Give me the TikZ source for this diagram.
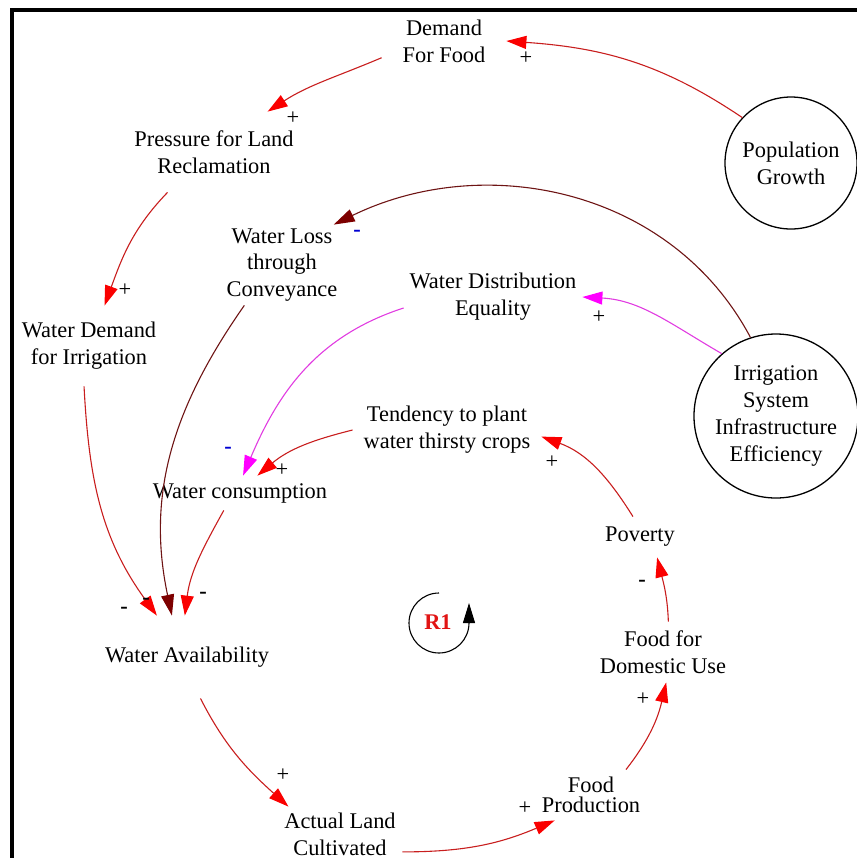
\documentclass[tikz,border=0pt]{standalone}
\usepackage{fontspec}
\setmainfont{Liberation Serif}
\usetikzlibrary{arrows.meta}

\definecolor{linkred}{RGB}{200,30,30}
\definecolor{tipred}{RGB}{250,0,0}
\definecolor{lossline}{RGB}{110,20,20}
\definecolor{losstip}{RGB}{125,0,0}
\definecolor{distline}{RGB}{225,60,225}
\definecolor{disttip}{RGB}{255,0,255}
\definecolor{signblue}{RGB}{0,0,210}
\definecolor{loopred}{RGB}{225,20,20}

\newcommand{\vfont}{\fontsize{11.2}{13.4}\selectfont}

\begin{document}
\begin{tikzpicture}[x=0.5pt, y=0.5pt,
  var/.style={font=\vfont, align=center, inner sep=0pt},
  box/.style 2 args={var, minimum width=#1, minimum height=#2},
  stock/.style={var, draw, circle, line width=0.65pt, minimum size=#1},
  link/.style={draw=linkred, line width=0.55pt, -{Triangle[length=10pt,width=6.5pt,color=tipred]}},
  losslink/.style={draw=lossline, line width=0.55pt, -{Triangle[length=10.5pt,width=6.5pt,color=losstip]}},
  distlink/.style={draw=distline, line width=0.55pt, -{Triangle[length=10pt,width=6.5pt,color=disttip]}},
  sign/.style={font=\vfont, inner sep=0pt},
  neg/.style={font=\vfont\bfseries, inner sep=0pt}]

\useasboundingbox (0,0) rectangle (857,-858);
\draw [line width=1.7pt] (12,-858) -- (12,-10) -- (857,-10);

% variables
\node [box={62pt}{30pt}] (dff) at (444,-41) {Demand\\For Food};
\node [box={90pt}{40pt}] (plr) at (214,-152) {Pressure for Land\\Reclamation};
\node [box={75pt}{40pt}] (wdi) at (89,-346) {Water Demand\\for Irrigation};
\node [box={62pt}{40pt}] (wlc) at (282,-265) {Water Loss\\through\\Conveyance};
\node [box={89pt}{30pt}] (wde) at (493,-297) {Water Distribution\\Equality};
\node [box={94pt}{30pt}] (tend) at (447,-430) {Tendency to plant\\water thirsty crops};
\node [box={95pt}{17pt}] (wc) at (240,-493) {Water consumption};
\node [box={90pt}{41pt}] (wa) at (187,-657) {Water Availability};
\node [box={62pt}{27pt}] (alc) at (340,-834) {Actual Land\\Cultivated};
\node [box={60pt}{25pt}] (fp) at (591,-795) {Food\\[-3.4pt]Production};
\node [box={70pt}{30pt}] (ffd) at (663,-652) {Food for\\Domestic Use};
\node [box={45pt}{20pt}] (pov) at (640,-537) {Poverty};
\node [stock=66pt] (popg) at (791,-163) {Population\\Growth};
\node [stock=82pt] (isie) at (776,-416) {Irrigation\\System\\Infrastructure\\Efficiency};

% links
\draw [link] (popg.137) to[out=146, in=-4] (dff.east);
\draw [link] (dff.195) to[out=203, in=33] (plr.37);
\draw [link] (plr.221) to[out=226, in=70] (wdi.69);
\draw [link] (wdi.263) to[out=273, in=126] (wa.126);
\draw [losslink] (wlc.227) to[out=235, in=102] (wa.110);
\draw [link] (wc.227) to[out=241, in=83] (wa.93);
\draw [losslink] (isie.108) to[out=118, in=26] (wlc.38);
\draw [distlink] (isie.131) to[out=150, in=-3] (wde.east);
\draw [distlink] (wde.187) to[out=198, in=67] (wc.80);
\draw [link] (tend.west) to[out=194, in=40] (wc.45);
\draw [link] (pov.109) to[out=122, in=-20] (tend.-4);
\draw [link] (ffd.80) to[out=92, in=-76] (pov.310);
\draw [link] (fp.36) to[out=52, in=257] (ffd.276);
\draw [link] (alc.-16) to[out=0, in=203] (fp.215);
\draw [link] (wa.288) to[out=297, in=138] (alc.152);

% polarities
\node [sign] (s1) at (526,-58) {+};
\node [sign] (s2) at (293,-118) {+};
\node [sign] (s3) at (125,-290) {+};
\node [neg] (s4) at (124,-610) {-};
\node [neg] (s5) at (146,-601) {-};
\node [neg] (s6) at (203,-595) {-};
\node [neg, text=signblue] (s7) at (357,-233) {-};
\node [sign] (s8) at (599,-317) {+};
\node [neg, text=signblue] (s9) at (228,-450) {-};
\node [sign] (s10) at (282,-470) {+};
\node [sign] (s11) at (552,-462) {+};
\node [neg] (s12) at (642,-583) {-};
\node [sign] (s13) at (643,-699) {+};
\node [sign] (s14) at (525,-808) {+};
\node [sign] (s15) at (283,-775) {+};

% loop
\node [font=\vfont\bfseries, text=loopred, inner sep=0pt] (r1) at (438,-622) {R1};
\draw [line width=0.55pt, -{Triangle[length=10pt,width=6pt]}] (439,-593) arc[start angle=90, end angle=360, radius=30] -- ++(0,20);

\end{tikzpicture}
\end{document}
